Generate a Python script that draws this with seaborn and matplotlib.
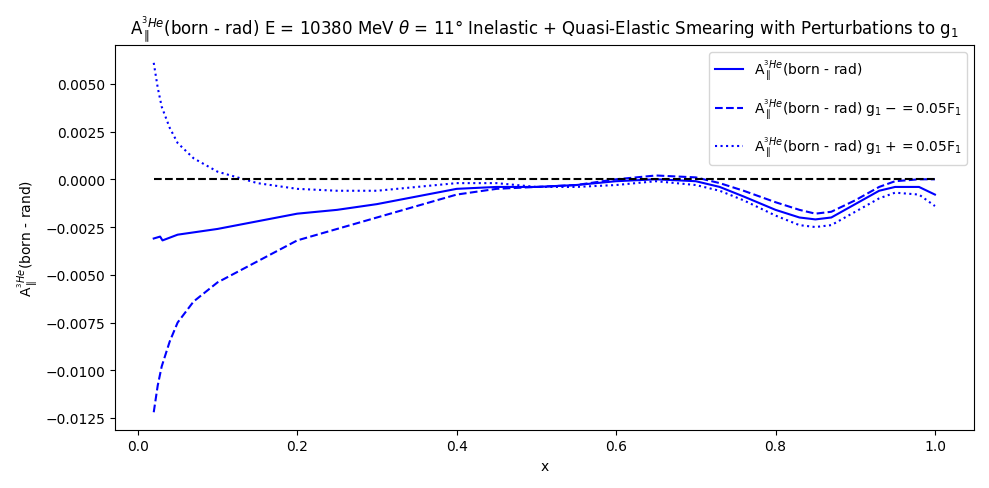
import numpy as np
import pandas as pd
import matplotlib
matplotlib.use("Agg")
import matplotlib.pyplot as plt
import seaborn as sns

# ── Data ────────────────────────────────────────────────────
x_born = [0.02, 0.028, 0.031, 0.05, 0.1, 0.15, 0.2, 0.25, 0.3, 0.35, 0.4, 0.45,
          0.5, 0.55, 0.6, 0.65, 0.7, 0.73, 0.76, 0.8, 0.83, 0.85, 0.87, 0.9,
          0.93, 0.95, 0.98, 1.0]
y_born = [-0.0031, -0.0030, -0.0032, -0.0029, -0.0026, -0.0022, -0.0018, -0.0016,
          -0.0013, -0.0009, -0.0005, -0.0004, -0.0004, -0.0003, -0.0001, 0.0000,
          -0.0001, -0.0004, -0.0009, -0.0016, -0.0020, -0.0021, -0.0020, -0.0013,
          -0.0006, -0.0004, -0.0004, -0.0008]

x_pert = [0.02, 0.025, 0.03, 0.04, 0.05, 0.07, 0.1, 0.15, 0.2, 0.25, 0.3, 0.35,
          0.4, 0.45, 0.5, 0.55, 0.6, 0.65, 0.7, 0.73, 0.76, 0.8, 0.83, 0.85,
          0.87, 0.9, 0.93, 0.95, 0.98, 1.0]
y_minus = [-0.0122, -0.0108, -0.0098, -0.0085, -0.0075, -0.0064, -0.0054, -0.0043,
           -0.0032, -0.0026, -0.0020, -0.0014, -0.0008, -0.0005, -0.0004, -0.0003,
           0.0000, 0.0002, 0.0001, -0.0002, -0.0006, -0.0012, -0.0016, -0.0018,
           -0.0017, -0.0011, -0.0004, -0.0001, 0.0000, 0.0000]
y_plus = [0.0061, 0.0048, 0.0038, 0.0027, 0.0019, 0.0011, 0.0004, -0.0002, -0.0005,
          -0.0006, -0.0006, -0.0004, -0.0002, -0.0002, -0.0004, -0.0004, -0.0003,
          -0.0001, -0.0003, -0.0006, -0.0011, -0.0019, -0.0024, -0.0025, -0.0024,
          -0.0017, -0.0010, -0.0007, -0.0008, -0.0014]

x_zero = [0.02, 1.0]
y_zero = [0.0, 0.0]

LBL = r"A$_{\parallel}^{^3He}$(born - rad)"

fig, ax = plt.subplots(figsize=(9.89, 4.89), dpi=100)

sns.lineplot(x=x_born, y=y_born, ax=ax, color="blue", sort=False, label=LBL)
sns.lineplot(x=x_pert, y=y_minus, ax=ax, color="blue", linestyle="--", sort=False,
             label=LBL + r" g$_1-=0.05$F$_1$")
sns.lineplot(x=x_pert, y=y_plus, ax=ax, color="blue", linestyle=":", sort=False,
             label=LBL + r" g$_1+=0.05$F$_1$")
sns.lineplot(x=x_zero, y=y_zero, ax=ax, color="black", linestyle="--", sort=False)

ax.set_title(r"A$_{\parallel}^{^3He}$(born - rad) E = 10380 MeV $\theta$ = 11° "
             r"Inelastic + Quasi-Elastic Smearing with Perturbations to g$_1$")
ax.set_xlabel("x")
ax.set_ylabel(r"A$_{\parallel}^{^3He}$(born - rand)")
ax.set_xticks([0.0, 0.2, 0.4, 0.6, 0.8, 1.0])
ax.legend(loc="upper right", labelspacing=1.0)
plt.tight_layout()
fig.savefig("out.png", dpi=100)
